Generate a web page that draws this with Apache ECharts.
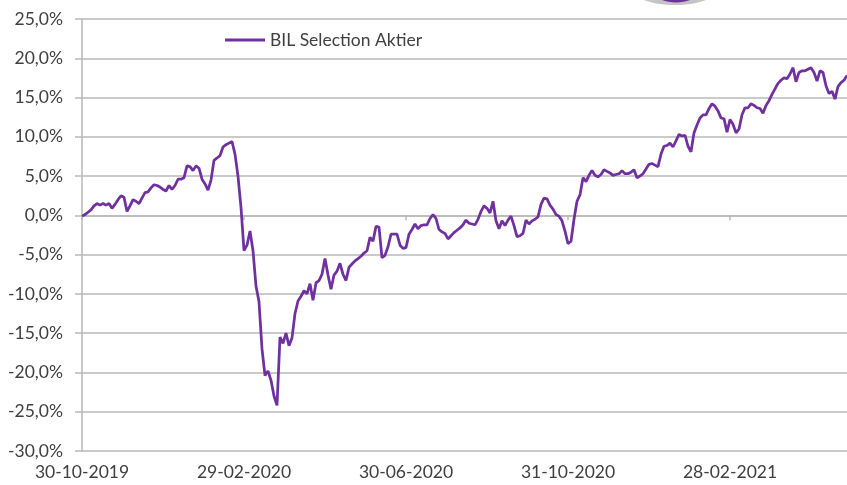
<!DOCTYPE html>
<html>
<head>
<meta charset="utf-8">
<script src="https://cdn.jsdelivr.net/npm/echarts@6/dist/echarts.min.js"></script>
<style>
html,body{margin:0;padding:0;background:#fff;}
#chart{width:847px;height:485px;}
</style>
</head>
<body>
<div id="chart"></div>
<script>
// Tick labels shown on the horizontal axis (every 54th observation)
const tickLabels = ['30-10-2019', '29-02-2020', '30-06-2020', '31-10-2020', '28-02-2021'];
const tickStep = 54;
const seriesName = 'BIL Selection Aktier';

const perfA = [
  -0.1, 0.1, 0.4, 0.7, 1.2, 1.5, 1.3, 1.5, 1.3, 1.5,
  0.9, 1.4, 2.0, 2.5, 2.3, 0.5, 1.2, 2.0, 1.8, 1.5,
  2.2, 2.9, 3.0, 3.5, 3.9, 3.8, 3.6, 3.3, 3.1, 3.8,
  3.3, 3.8, 4.6, 4.6, 4.8, 6.3, 6.2, 5.7, 6.3, 6.0,
  4.6, 4.0, 3.2, 4.5, 7.0, 7.3, 7.6, 8.7, 9.0, 9.2,
  9.4, 7.8, 5.0, 1.0, -4.5, -3.8, -2.0, -4.5, -9.0, -11.0,
  -17.0, -20.4, -19.8, -21.0, -23.0, -24.2, -15.5, -16.3, -15.0, -16.6,
  -15.6, -12.5, -10.9, -10.3, -9.6, -10.0, -8.7, -10.8, -8.6, -8.3
];
const perfB = [
  -7.5, -5.5, -7.6, -9.4, -7.6, -7.1, -6.1, -7.5, -8.3, -6.6,
  -6.2, -5.8, -5.5, -5.2, -4.8, -4.5, -2.8, -3.3, -1.4, -1.5,
  -5.4, -5.1, -4.0, -2.4, -2.4, -2.4, -3.8, -4.2, -4.1, -2.4,
  -1.8, -1.1, -1.7, -1.3, -1.2, -1.2, -0.4, 0.1, -0.4, -1.8,
  -2.1, -2.3, -3.0, -2.6, -2.2, -1.9, -1.6, -1.2, -0.6, -1.0,
  -1.1, -1.2, -0.5, 0.5, 1.2, 0.9, 0.3, 1.8, -0.7, -1.7,
  -0.7, -1.3, -0.6, -0.1, -1.3, -2.7, -2.6, -2.3, -0.6, -1.1,
  -0.7, -0.5, -0.2, 1.4, 2.2, 2.1, 1.3, 0.8, 0.1, -0.1,
  -0.7, -2.0, -3.6, -3.3
];
const perfC = [
  -0.5, 1.8, 2.6, 4.8, 4.3, 5.1, 5.7, 5.1, 4.9, 5.2,
  5.8, 5.6, 5.4, 5.1, 5.2, 5.3, 5.7, 5.3, 5.3, 5.5,
  5.8, 4.8, 5.0, 5.3, 5.9, 6.5, 6.6, 6.4, 6.2, 7.8,
  8.8, 8.9, 9.2, 8.7, 9.5, 10.3, 10.1, 10.2, 8.8, 8.1,
  10.5, 11.5, 12.4, 12.8, 12.8, 13.6, 14.2, 13.9, 13.3, 12.4,
  12.3, 10.6, 12.2, 11.6, 10.5, 11.0, 12.8, 13.7, 13.7, 14.2,
  14.0, 13.7, 13.6, 13.0, 14.0, 14.6, 15.4, 16.1, 16.8, 17.2,
  17.5, 17.4, 18.0, 18.8, 17.0, 18.2, 18.4, 18.4, 18.6, 18.8,
  18.2, 17.1, 18.4, 18.2, 16.5, 15.5, 15.8, 14.8, 16.4, 16.9,
  17.2, 17.8
];
const performance = perfA.concat(perfB, perfC);
const categories = performance.map((v, i) => String(i));

const fontFamily = 'Lato, "Open Sans", sans-serif';
const gridColor = '#b9b9b9';
const textColor = '#404040';

const chart = echarts.init(document.getElementById('chart'), null, {renderer: 'canvas'});
chart.setOption({
  animation: false,
  backgroundColor: '#ffffff',
  grid: {left: 82, right: 0, top: 19, bottom: 34, containLabel: false},
  legend: {
    data: [{name: seriesName, icon: 'rect'}],
    left: 220, top: 26,
    itemWidth: 40, itemHeight: 3, itemGap: 10,
    textStyle: {fontFamily: fontFamily, fontSize: 17.5, color: textColor}
  },
  graphic: [
    {type: 'ellipse', shape: {cx: 675, cy: -12, rx: 44, ry: 17}, style: {fill: '#c4c4c4'}, silent: true},
    {type: 'ellipse', shape: {cx: 676, cy: -12, rx: 25, ry: 14.5}, style: {fill: '#7030a0'}, silent: true}
  ],
  xAxis: [
    {
      type: 'category', data: categories, boundaryGap: false, position: 'bottom',
      axisLine: {onZero: true, lineStyle: {color: gridColor, width: 1.5}},
      axisTick: {show: true, inside: false, length: 5, interval: (i) => i % tickStep === 0,
                 lineStyle: {color: gridColor, width: 1.5}},
      axisLabel: {show: false},
      splitLine: {show: false}
    },
    {
      type: 'category', data: categories, boundaryGap: false, position: 'bottom',
      axisLine: {show: false, onZero: false},
      axisTick: {show: false},
      axisLabel: {
        show: true, margin: 12, interval: (i) => i % tickStep === 0,
        formatter: (v, i) => tickLabels[Math.round(i / tickStep)] || '',
        fontFamily: fontFamily, fontSize: 17.5, color: textColor
      },
      splitLine: {show: false}
    }
  ],
  yAxis: {
    type: 'value', min: -30, max: 25, interval: 5,
    axisLine: {show: true, lineStyle: {color: gridColor, width: 1.5}},
    axisTick: {show: true, inside: false, length: 7, lineStyle: {color: gridColor, width: 1.5}},
    axisLabel: {
      margin: 19, fontFamily: fontFamily, fontSize: 17.5, color: textColor,
      formatter: (v) => v.toFixed(1).replace('.', ',') + '%'
    },
    splitLine: {show: true, lineStyle: {color: gridColor, width: 1.5}}
  },
  series: [{
    name: seriesName, type: 'line', xAxisIndex: 0, yAxisIndex: 0,
    data: performance, showSymbol: false, symbol: 'none',
    lineStyle: {color: '#7030a0', width: 2.75},
    itemStyle: {color: '#7030a0'},
    clip: false
  }]
});
</script>
</body>
</html>
